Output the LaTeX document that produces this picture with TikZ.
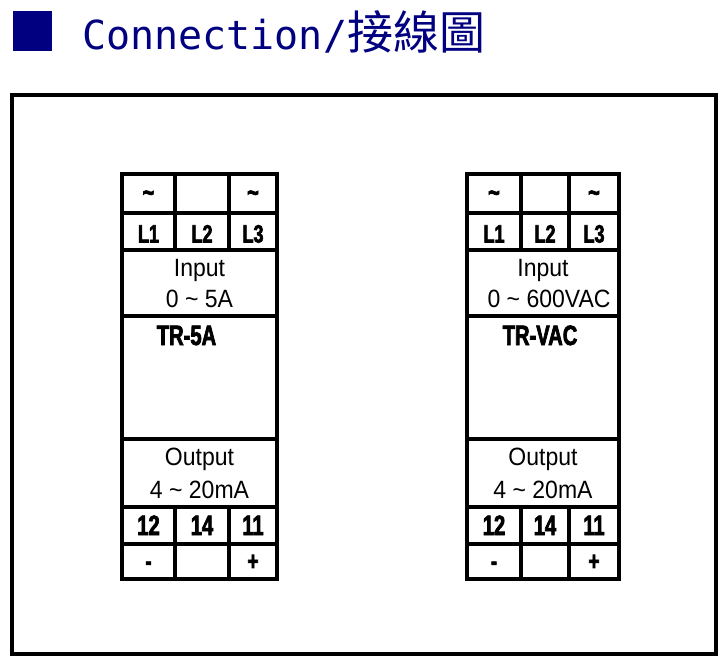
\documentclass[tikz,border=0pt]{standalone}
\usepackage{fontspec}
\setmainfont{Liberation Sans}
\newfontfamily\narrowfont[FakeStretch=0.92]{Liberation Sans}
\newfontfamily\heavyfont[FakeStretch=0.72,FakeBold=2.5]{Liberation Sans Bold}
\newfontfamily\monofont{DejaVu Sans Mono}
\newfontfamily\cjkfont{Noto Sans CJK TC}
\definecolor{navy}{RGB}{0,0,128}
\tikzset{
  frame/.style={line width=4pt},
  box/.style={line width=3.8pt},
  title/.style={inner sep=0pt,text=navy},
  tilde/.style={inner sep=0pt,anchor=base,font=\heavyfont\fontsize{28}{28}\selectfont},
  sign/.style={inner sep=0pt,anchor=base,font=\heavyfont\fontsize{26}{26}\selectfont},
  lterm/.style={inner sep=0pt,anchor=base,font=\heavyfont\fontsize{25}{25}\selectfont},
  nterm/.style={inner sep=0pt,anchor=base,font=\heavyfont\fontsize{28}{28}\selectfont},
  model/.style={inner sep=0pt,anchor=base,font=\heavyfont\fontsize{28}{28}\selectfont},
  spec/.style={inner sep=0pt,anchor=base,font=\narrowfont\fontsize{25}{25}\selectfont}
}
\begin{document}
\begin{tikzpicture}[x=1pt,y=-1pt]
\useasboundingbox (0,0) rectangle (725,661);

% Title
\fill[navy] (13,11) rectangle (52,51);
\node[title,anchor=base west,font=\monofont\fontsize{40}{40}\selectfont] (tEn) at (82,49) {Connection/};
\node[title,anchor=base west,font=\cjkfont\fontsize{46}{46}\selectfont] (tZh) at (tEn.base east) {接線圖};

% Outer frame
\draw[frame] (12,95) rectangle (716,654);

% Left module (TR-5A)
\draw[box] (122,174) rectangle (277,579);
\draw[box] (122,213) -- (277,213);
\draw[box] (122,250) -- (277,250);
\draw[box] (122,316) -- (277,316);
\draw[box] (122,439) -- (277,439);
\draw[box] (122,507) -- (277,507);
\draw[box] (122,544) -- (277,544);
\draw[box] (175,174) -- (175,250);
\draw[box] (229,174) -- (229,250);
\draw[box] (175,507) -- (175,579);
\draw[box] (229,507) -- (229,579);

\node[tilde] (aT1) at (148.5,202) {\char"007E};
\node[tilde] (aT3) at (253,202) {\char"007E};
\node[lterm] (aL1) at (148.5,242.5) {L1};
\node[lterm] (aL2) at (202,242.5) {L2};
\node[lterm] (aL3) at (253,242.5) {L3};
\node[spec] (aIn) at (199.5,276) {Input};
\node[spec] (aRange) at (199.5,307) {0 \char"007E{} 5A};
\node[model] (aName) at (186.5,345) {TR-5A};
\node[spec] (aOut) at (199.5,465) {Output};
\node[spec] (aCur) at (199.5,498) {4 \char"007E{} 20mA};
\node[nterm] (a12) at (148.5,535) {12};
\node[nterm] (a14) at (202,535) {14};
\node[nterm] (a11) at (253,535) {11};
\node[sign] (aMinus) at (148.5,570) {-};
\node[sign] (aPlus) at (253,570) {+};

% Right module (TR-VAC)
\draw[box] (467,174) rectangle (619,579);
\draw[box] (467,213) -- (619,213);
\draw[box] (467,250) -- (619,250);
\draw[box] (467,316) -- (619,316);
\draw[box] (467,439) -- (619,439);
\draw[box] (467,507) -- (619,507);
\draw[box] (467,544) -- (619,544);
\draw[box] (521,174) -- (521,250);
\draw[box] (569,174) -- (569,250);
\draw[box] (521,507) -- (521,579);
\draw[box] (569,507) -- (569,579);

\node[tilde] (bT1) at (494,202) {\char"007E};
\node[tilde] (bT3) at (594,202) {\char"007E};
\node[lterm] (bL1) at (494,242.5) {L1};
\node[lterm] (bL2) at (545,242.5) {L2};
\node[lterm] (bL3) at (594,242.5) {L3};
\node[spec] (bIn) at (543,276) {Input};
\node[spec] (bRange) at (549,307) {0 \char"007E{} 600VAC};
\node[model] (bName) at (540,345) {TR-VAC};
\node[spec] (bOut) at (543,465) {Output};
\node[spec] (bCur) at (543,498) {4 \char"007E{} 20mA};
\node[nterm] (b12) at (494,535) {12};
\node[nterm] (b14) at (545,535) {14};
\node[nterm] (b11) at (594,535) {11};
\node[sign] (bMinus) at (494,570) {-};
\node[sign] (bPlus) at (594,570) {+};

\end{tikzpicture}
\end{document}
